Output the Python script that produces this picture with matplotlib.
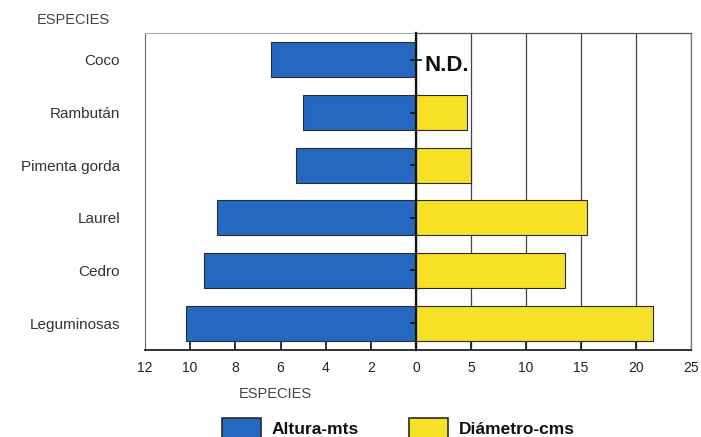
import matplotlib
matplotlib.use("Agg")
import matplotlib.pyplot as plt
from matplotlib.patches import Rectangle

plt.rcParams['font.family'] = ['Liberation Sans', 'DejaVu Sans']

# Species (bottom to top) and their measurements
especies = ["Leguminosas", "Cedro", "Laurel", "Pimenta gorda", "Rambután", "Coco"]
altura_mts = [10.2, 9.4, 8.8, 5.3, 5.0, 6.4]
diametro_cms = [21.5, 13.5, 15.5, 5.0, 4.6, None]   # Coco: no data

altura_ticks = [12, 10, 8, 6, 4, 2]
diametro_ticks = [0, 5, 10, 15, 20, 25]

BLUE = "#2468c2"
YELLOW = "#f6e126"
EDGE = "#2a2a2a"

fig = plt.figure(figsize=(7.01, 4.37), dpi=100)
x0, xm, x1 = 145 / 701, 416 / 701, 691 / 701
yb, yt = 1 - 350 / 437, 1 - 33 / 437
axL = fig.add_axes([x0, yb, xm - x0, yt - yb])
axR = fig.add_axes([xm, yb, x1 - xm, yt - yb], sharey=axL)

ypos = list(range(len(especies)))
h = 0.67

axL.barh(ypos, altura_mts, height=h, color=BLUE, edgecolor=EDGE, linewidth=0.8, zorder=3)
axL.set_xlim(12, 0)
axL.set_ylim(-0.51, len(especies) - 0.49)

vals = [v if v is not None else 0 for v in diametro_cms]
bars = axR.barh(ypos, vals, height=h, color=YELLOW, edgecolor=EDGE, linewidth=0.8, zorder=3)
for b, v in zip(bars, diametro_cms):
    if v is None:
        b.set_visible(False)
axR.set_xlim(0, 25)

# N.D. marker for missing diameter
for y, v in zip(ypos, diametro_cms):
    if v is None:
        axR.text(0.8, y - 0.1, "N.D.", fontsize=16, fontweight="bold",
                 ha="left", va="center", color="#111")

# Left half styling
axL.set_yticks(ypos)
axL.set_yticklabels(especies, fontsize=11, color="#333")
axL.tick_params(axis="y", length=0, pad=18)
axL.set_xticks(altura_ticks)
axL.set_xticklabels([str(t) for t in altura_ticks], fontsize=10, color="#222")
axL.tick_params(axis="x", direction="in", length=9, width=1.3, color="#222", pad=8)
axL.spines["right"].set_visible(False)
axL.spines["left"].set_color("#666")
axL.spines["left"].set_linewidth(0.8)
axL.spines["top"].set_color("#aaa")
axL.spines["top"].set_linewidth(0.8)
axL.spines["bottom"].set_color("#222")
axL.spines["bottom"].set_linewidth(1.3)

# Right half styling
axR.set_xticks(diametro_ticks)
axR.set_xticklabels([str(t) for t in diametro_ticks], fontsize=10, color="#222")
axR.tick_params(axis="x", direction="in", length=9, width=1.3, color="#222", pad=8)
axR.grid(axis="x", color="#444", linewidth=0.9, zorder=0)
axR.tick_params(axis="y", left=True, labelleft=False, direction="inout",
                length=9, width=1.2, color="#111")
axR.spines["left"].set_color("#111")
axR.spines["left"].set_linewidth(1.6)
axR.spines["left"].set_zorder(4)
axR.spines["top"].set_color("#555")
axR.spines["top"].set_linewidth(0.9)
axR.spines["right"].set_color("#777")
axR.spines["right"].set_linewidth(0.9)
axR.spines["bottom"].set_color("#222")
axR.spines["bottom"].set_linewidth(1.3)

# No tick marks at the outer ends of the scale
axL.xaxis.get_major_ticks()[0].tick1line.set_visible(False)
axR.xaxis.get_major_ticks()[-1].tick1line.set_visible(False)

# Axis titles
fig.text(73 / 701, 1 - 20 / 437, "ESPECIES", fontsize=10.5, color="#444",
         ha="center", va="center")
fig.text(275 / 701, 1 - 394 / 437, "ESPECIES", fontsize=10.5, color="#444",
         ha="center", va="center")

# Legend
for (px, col, label) in [(222, BLUE, "Altura-mts"), (409, YELLOW, "Diámetro-cms")]:
    fig.patches.append(Rectangle((px / 701, 1 - 442 / 437), 39 / 701, 24 / 437,
                                 transform=fig.transFigure, facecolor=col,
                                 edgecolor=EDGE, linewidth=1.2))
    fig.text((px + 50) / 701, 1 - 429 / 437, label, fontsize=12.5,
             fontweight="bold", color="#111", ha="left", va="center")

fig.savefig("out.png", dpi=100)
